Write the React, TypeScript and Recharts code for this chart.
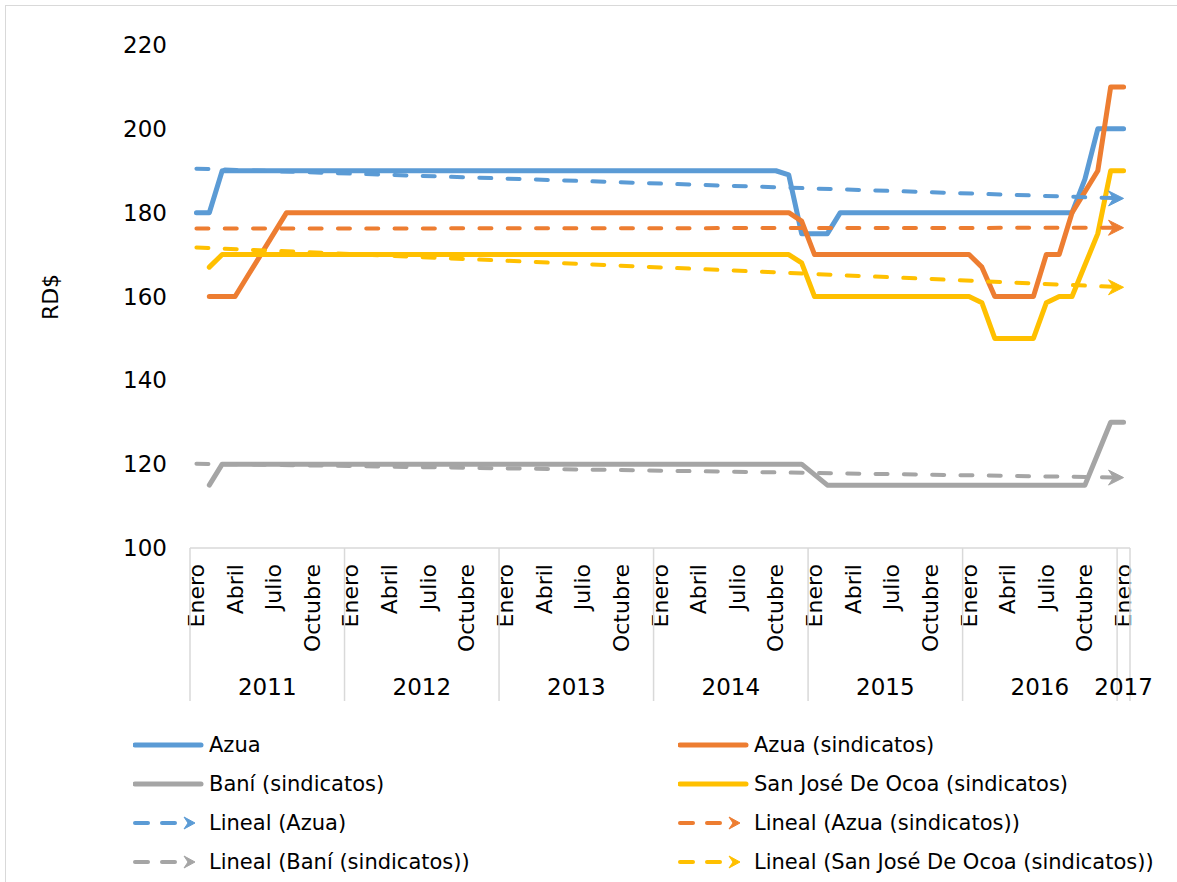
import React from "react";
import { LineChart, Line, XAxis, YAxis } from "recharts";

const MONTH_NAMES = ["Enero","Febrero","Marzo","Abril","Mayo","Junio","Julio","Agosto","Septiembre","Octubre","Noviembre","Diciembre"];
const SHOWN_MONTHS = [0, 3, 6, 9];
const YEARS = [2011, 2012, 2013, 2014, 2015, 2016, 2017];
const Y_TICKS = [100, 120, 140, 160, 180, 200, 220];

const AZUA = [
  180,180,190,190,190,190,190,190,190,190,190,190,
  190,190,190,190,190,190,190,190,190,190,190,190,
  190,190,190,190,190,190,190,190,190,190,190,190,
  190,190,190,190,190,190,190,190,190,190,189,175,
  175,175,180,180,180,180,180,180,180,180,180,180,
  180,180,180,180,180,180,180,180,180,188,200,200,
  200,
];
const AZUA_SIND = [
  null,160,160,160,165,170,175,180,180,180,180,180,
  180,180,180,180,180,180,180,180,180,180,180,180,
  180,180,180,180,180,180,180,180,180,180,180,180,
  180,180,180,180,180,180,180,180,180,180,180,178,
  170,170,170,170,170,170,170,170,170,170,170,170,
  170,167,160,160,160,160,170,170,180,185,190,210,
  210,
];
const BANI = [
  null,115,120,120,120,120,120,120,120,120,120,120,
  120,120,120,120,120,120,120,120,120,120,120,120,
  120,120,120,120,120,120,120,120,120,120,120,120,
  120,120,120,120,120,120,120,120,120,120,120,120,
  117.5,115,115,115,115,115,115,115,115,115,115,115,
  115,115,115,115,115,115,115,115,115,115,122.5,130,
  130,
];
const OCOA = [
  null,167,170,170,170,170,170,170,170,170,170,170,
  170,170,170,170,170,170,170,170,170,170,170,170,
  170,170,170,170,170,170,170,170,170,170,170,170,
  170,170,170,170,170,170,170,170,170,170,170,168,
  160,160,160,160,160,160,160,160,160,160,160,160,
  160,158.5,150,150,150,150,158.5,160,160,167.5,175,190,
  190,
];
// linear trend lines: value at first and last category
const TREND_AZUA = [190.5, 183.4];
const TREND_AZUA_SIND = [176.2, 176.4];
const TREND_BANI = [120.1, 116.8];
const TREND_OCOA = [171.7, 162.2];

const BLUE = "#5B9BD5";
const ORANGE = "#ED7D31";
const GRAY = "#A5A5A5";
const YELLOW = "#FFC000";
const FONT = "'DejaVu Sans', sans-serif";
const FS_NUM = 23;
const FS_MONTH = 22;
const FS_LEG = 21;

const N = AZUA.length;
const data = AZUA.map((v, i) => {
  const last = i === N - 1;
  const first = i === 0;
  return {
    key: String(i),
    year: YEARS[Math.floor(i / 12)],
    month: i % 12,
    azua: v,
    azuaSind: AZUA_SIND[i],
    bani: BANI[i],
    ocoa: OCOA[i],
    tAzua: first ? TREND_AZUA[0] : last ? TREND_AZUA[1] : null,
    tAzuaSind: first ? TREND_AZUA_SIND[0] : last ? TREND_AZUA_SIND[1] : null,
    tBani: first ? TREND_BANI[0] : last ? TREND_BANI[1] : null,
    tOcoa: first ? TREND_OCOA[0] : last ? TREND_OCOA[1] : null,
  };
});

const W = 1177;
const H = 882;
const M_TOP = 45;
const M_RIGHT = 47;
const Y_W = 190;
const X_H = 160;
const M_BOTTOM = H - 548 - X_H;
const PLOT_W = W - Y_W - M_RIGHT;
const BAND = PLOT_W / N;

const SEP = "#D9D9D9";

const XTick = (props: any) => {
  const { x, y, payload } = props;
  const i = Number(payload.value);
  const row = data[i];
  if (!row) return <g />;
  const els: any[] = [];
  if (SHOWN_MONTHS.includes(row.month)) {
    const ty = y + 16;
    els.push(
      <text key="m" x={x} y={ty} transform={`rotate(-90, ${x}, ${ty})`} textAnchor="end"
        dominantBaseline="central" fontFamily={FONT} fontSize={FS_MONTH} fill="#000">
        {MONTH_NAMES[row.month]}
      </text>
    );
  }
  if (row.month === 0) {
    els.push(<line key="s" x1={x - BAND / 2} x2={x - BAND / 2} y1={y} y2={y + 153} stroke={SEP} strokeWidth={1.5} />);
  }
  if (i === N - 1) {
    els.push(<line key="e" x1={x + BAND / 2} x2={x + BAND / 2} y1={y} y2={y + 153} stroke={SEP} strokeWidth={1.5} />);
  }
  const monthsInYear = data.filter((d) => d.year === row.year).length;
  const centerMonth = monthsInYear === 12 ? 5 : 0;
  if (row.month === centerMonth) {
    const cx = monthsInYear === 12 ? x + BAND / 2 : x;
    els.push(
      <text key="y" x={cx} y={y + 139} textAnchor="middle" dominantBaseline="central"
        fontFamily={FONT} fontSize={FS_NUM} fill="#000">
        {row.year}
      </text>
    );
  }
  return <g>{els}</g>;
};

const makeArrowDot = (color: string) => (props: any) => {
  const { cx, cy, index } = props;
  if (index !== N - 1 || cx == null || cy == null) return <g key={`d${index}`} />;
  const t = cx;
  return (
    <path key={`d${index}`} d={`M${t},${cy} L${t - 15},${cy - 7.5} L${t - 10},${cy} L${t - 15},${cy + 7.5} Z`}
      fill={color} stroke={color} strokeWidth={1} strokeLinejoin="round" />
  );
};

const LegendIcon = ({ color, dashed }: { color: string; dashed: boolean }) => (
  <svg width={72} height={14} style={{ display: "block" }}>
    {dashed ? (
      <g>
        <line x1={2} x2={15} y1={7} y2={7} stroke={color} strokeWidth={4} strokeLinecap="round" />
        <line x1={29} x2={42} y1={7} y2={7} stroke={color} strokeWidth={4} strokeLinecap="round" />
        <path d="M62,7 L51,1 L55,7 L51,13 Z" fill={color} stroke={color} strokeWidth={1} strokeLinejoin="round" />
      </g>
    ) : (
      <line x1={2} x2={68} y1={7} y2={7} stroke={color} strokeWidth={5} strokeLinecap="round" />
    )}
  </svg>
);

const LEGEND = [
  { label: "Azua", color: BLUE, dashed: false },
  { label: "Azua (sindicatos)", color: ORANGE, dashed: false },
  { label: "Baní (sindicatos)", color: GRAY, dashed: false },
  { label: "San José De Ocoa (sindicatos)", color: YELLOW, dashed: false },
  { label: "Lineal (Azua)", color: BLUE, dashed: true },
  { label: "Lineal (Azua (sindicatos))", color: ORANGE, dashed: true },
  { label: "Lineal (Baní (sindicatos))", color: GRAY, dashed: true },
  { label: "Lineal (San José De Ocoa (sindicatos))", color: YELLOW, dashed: true },
];

export default function App() {
  const solid = { strokeWidth: 5, strokeLinecap: "round" as const, strokeLinejoin: "round" as const, dot: false, activeDot: false, isAnimationActive: false };
  const dash = { strokeWidth: 4, strokeLinecap: "round" as const, strokeDasharray: "12 16.3", connectNulls: true, activeDot: false, isAnimationActive: false };
  return (
    <div style={{ position: "absolute", left: 0, top: 0, width: W, height: H, background: "#fff", overflow: "hidden" }}>
      <div style={{ position: "absolute", left: 5, top: 5, width: W, height: H, borderTop: `1.5px solid ${SEP}`, borderLeft: `1.5px solid ${SEP}` }} />
      <div style={{ position: "absolute", left: 0, top: 0 }}>
        <LineChart width={W} height={H} data={data} margin={{ top: M_TOP, right: M_RIGHT, bottom: M_BOTTOM, left: 0 }}>
          <XAxis dataKey="key" type="category" scale="band" interval={0} height={X_H} tickSize={0} tickMargin={0}
            axisLine={{ stroke: SEP, strokeWidth: 1.5 }} tickLine={false} tick={<XTick />} />
          <YAxis width={Y_W} domain={[100, 220]} ticks={Y_TICKS} type="number" allowDataOverflow
            axisLine={false} tickLine={false} tickSize={0} tickMargin={23}
            tick={{ fontFamily: FONT, fontSize: FS_NUM, fill: "#000" }} />
          <Line dataKey="azua" stroke={BLUE} {...solid} />
          <Line dataKey="azuaSind" stroke={ORANGE} {...solid} />
          <Line dataKey="bani" stroke={GRAY} {...solid} />
          <Line dataKey="ocoa" stroke={YELLOW} {...solid} />
          <Line dataKey="tAzua" stroke={BLUE} {...dash} dot={makeArrowDot(BLUE)} />
          <Line dataKey="tAzuaSind" stroke={ORANGE} {...dash} dot={makeArrowDot(ORANGE)} />
          <Line dataKey="tBani" stroke={GRAY} {...dash} dot={makeArrowDot(GRAY)} />
          <Line dataKey="tOcoa" stroke={YELLOW} {...dash} dot={makeArrowDot(YELLOW)} />
        </LineChart>
      </div>
      <div style={{ position: "absolute", left: 50, top: 297, transform: "translate(-50%, -50%) rotate(-90deg)", fontFamily: FONT, fontSize: 22, color: "#000", whiteSpace: "nowrap" }}>
        RD$
      </div>
      {LEGEND.map((item, k) => {
        const col = k % 2;
        const row = Math.floor(k / 2);
        return (
          <div key={item.label} style={{ position: "absolute", left: col === 0 ? 133 : 678, top: 745 + row * 39, transform: "translateY(-50%)", display: "flex", alignItems: "center", fontFamily: FONT, fontSize: FS_LEG, color: "#000", whiteSpace: "nowrap" }}>
            <LegendIcon color={item.color} dashed={item.dashed} />
            <span style={{ marginLeft: 4 }}>{item.label}</span>
          </div>
        );
      })}
    </div>
  );
}
